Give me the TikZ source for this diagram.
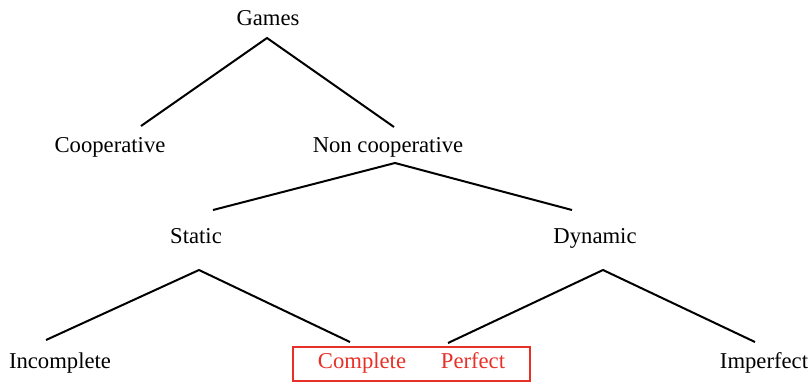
\documentclass[tikz,border=0pt]{standalone}
\usepackage{fontspec}
\setmainfont{Liberation Serif}
\definecolor{boxred}{RGB}{232,48,40}
\begin{document}
\begin{tikzpicture}[x=0.75pt,y=-0.75pt,
  lbl/.style={anchor=base,inner sep=0pt,font=\fontsize{17}{20}\selectfont},
  redlbl/.style={lbl,text=boxred},
  edge/.style={line width=1.5pt,black},
  hbox/.style={draw=boxred,line width=1.5pt}]
\useasboundingbox (0,0) rectangle (812,382);
% labels
\node[lbl] (games) at (268,25) {Games};
\node[lbl] (coop) at (110,152) {Cooperative};
\node[lbl] (noncoop) at (388,152) {Non cooperative};
\node[lbl] (static) at (196,243) {Static};
\node[lbl] (dynamic) at (595,243) {Dynamic};
\node[lbl] (incomplete) at (60,368) {Incomplete};
\node[redlbl] (complete) at (362,368) {Complete};
\node[redlbl] (perfect) at (473,368) {Perfect};
\node[lbl] (imperfect) at (764,368) {Imperfect};
% branch points
\coordinate (gA) at (267,38);
\coordinate (gL) at (141,126);
\coordinate (gR) at (394,127);
\coordinate (nA) at (395,163);
\coordinate (nL) at (213,210);
\coordinate (nR) at (572,210);
\coordinate (sA) at (199,270);
\coordinate (sL) at (46,340);
\coordinate (sR) at (350,342);
\coordinate (dA) at (603,270);
\coordinate (dL) at (448,343);
\coordinate (dR) at (755,342);
\draw[edge] (gL) -- (gA) -- (gR);
\draw[edge] (nL) -- (nA) -- (nR);
\draw[edge] (sL) -- (sA) -- (sR);
\draw[edge] (dL) -- (dA) -- (dR);
% highlight box
\coordinate (bTL) at (293,347);
\coordinate (bBR) at (530,381);
\draw[hbox] (bTL) rectangle (bBR);
\end{tikzpicture}
\end{document}
